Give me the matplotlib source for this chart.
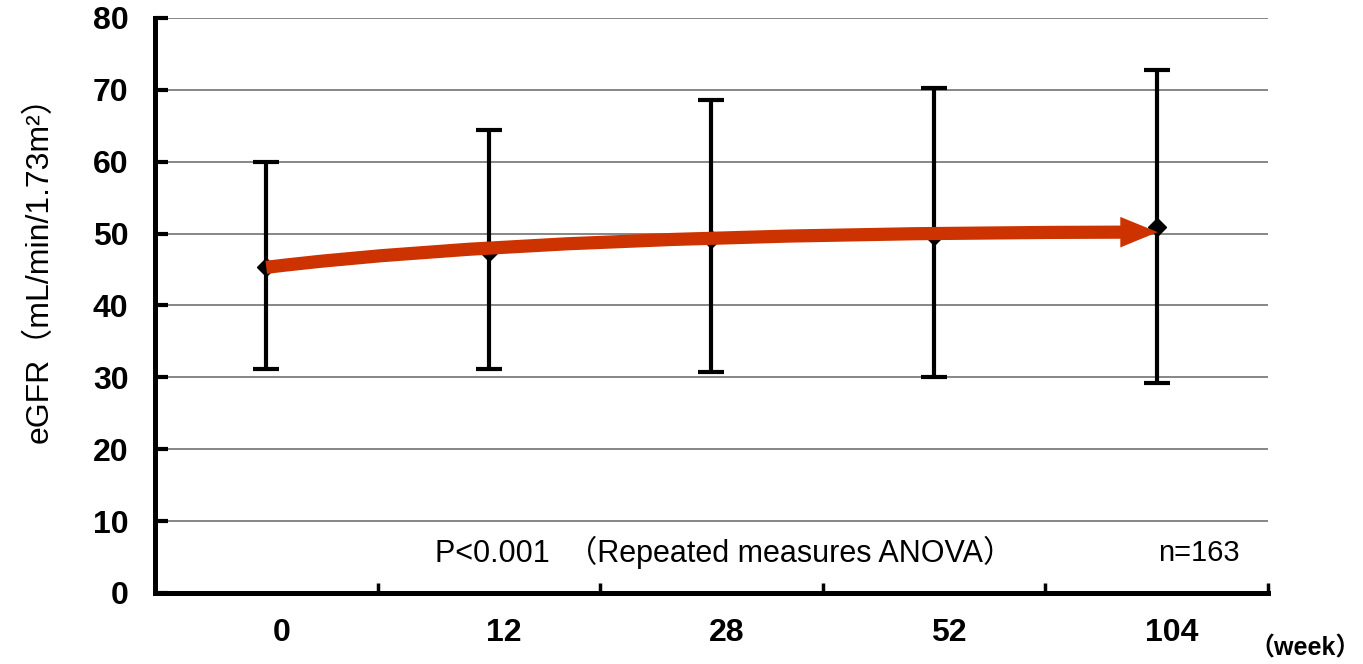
import numpy as np
import matplotlib
matplotlib.use('Agg')
from matplotlib import pyplot
from matplotlib.transforms import ScaledTranslation

weeks = ['0', '12', '28', '52', '104']
egfr_mean = [45.3, 47.4, 49.2, 49.7, 50.9]
egfr_upper = [60.0, 64.4, 68.6, 70.3, 72.8]
egfr_lower = [31.2, 31.2, 30.7, 30.1, 29.2]
trend_start = 45.3
trend_end = 50.2
y_ticks = [0, 10, 20, 30, 40, 50, 60, 70, 80]

font_main = ['Liberation Sans', 'Noto Sans CJK JP', 'DejaVu Sans']
pyplot.rcParams['font.family'] = font_main

fig = pyplot.figure(figsize=(13.63, 6.64), dpi=100)
ax = fig.add_axes([0.1137, 0.107, 0.8166, 0.866])

x = np.arange(len(weeks))
mean = np.array(egfr_mean)
yerr = [mean - np.array(egfr_lower), np.array(egfr_upper) - mean]

ax.errorbar(x, mean, yerr=yerr, fmt='D', color='black', markersize=9,
            elinewidth=3, capsize=9.5, capthick=3, zorder=3)

# red trend arrow
ax.annotate('', xy=(x[-1] + 0.005, trend_end), xytext=(x[0], trend_start),
            arrowprops=dict(arrowstyle='simple,head_length=2.7,head_width=2.2,tail_width=0.95',
                            connectionstyle='angle3,angleA=7,angleB=0',
                            fc='#CC3300', ec='none', mutation_scale=10,
                            shrinkA=0, shrinkB=0),
            zorder=4)

ax.set_xlim(-0.5, len(weeks) - 0.5)
ax.set_ylim(0, 80)
ax.set_yticks(y_ticks)
ax.set_yticklabels([str(v) for v in y_ticks], fontsize=23, fontweight='bold')
ax.set_xticks(x)
ax.set_xticklabels(weeks, fontsize=23, fontweight='bold')
ax.set_xticks(np.arange(len(weeks)) + 0.5, minor=True)

ax.yaxis.grid(True, color='#666666', linewidth=1.1)
ax.set_axisbelow(True)

for side in ['top', 'right']:
    ax.spines[side].set_visible(False)
for side in ['left', 'bottom']:
    ax.spines[side].set_linewidth(3.6)

ax.tick_params(axis='y', direction='in', length=9, width=3, pad=19)
ax.tick_params(axis='x', which='major', length=0, pad=18)
ax.tick_params(axis='x', which='minor', direction='in', length=7, width=2.5)

shift = ScaledTranslation(0.15, 0, fig.dpi_scale_trans)
for lab in ax.get_xticklabels():
    lab.set_transform(lab.get_transform() + shift)

ax.set_ylabel('eGFR（mL/min/1.73m²）', fontsize=23)
ax.yaxis.set_label_coords(-0.09, 0.576)

ax.text(0.76, 5.6, 'P<0.001  （Repeated measures ANOVA）', fontsize=22, va='center', ha='left')
ax.text(4.19, 5.6, 'n=163', fontsize=21, va='center', ha='center')
fig.text(0.9574, 0.024, '（week）', fontsize=18, fontweight='bold', va='center', ha='center')

fig.savefig('out.png', dpi=100)
